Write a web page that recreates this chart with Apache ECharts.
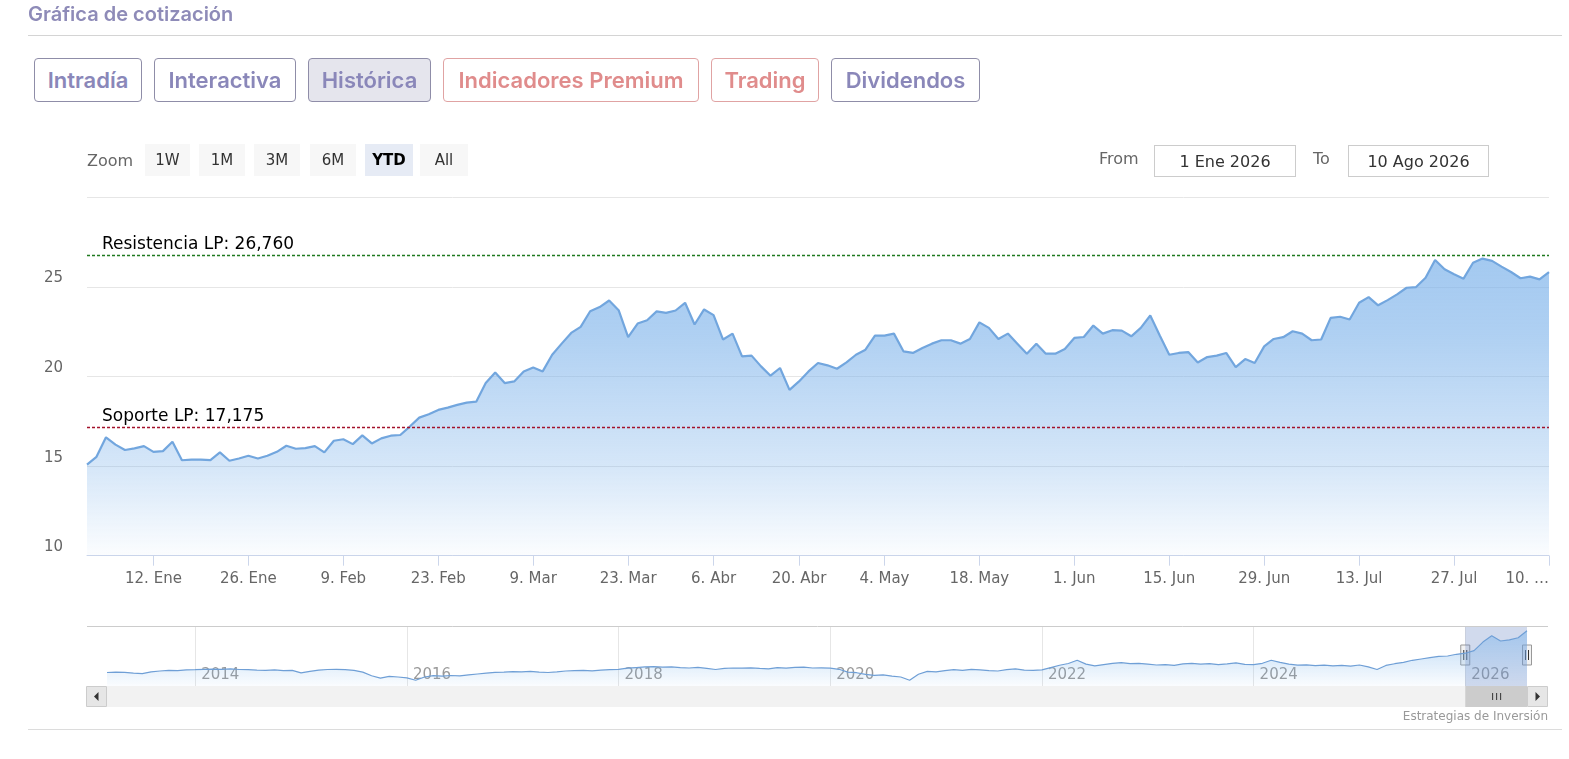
<!DOCTYPE html>
<html><head><meta charset="utf-8">
<script src="https://cdn.jsdelivr.net/npm/echarts@6/dist/echarts.min.js"></script>
<style>
html,body{margin:0;padding:0;background:#fff;width:1569px;height:759px;overflow:hidden;font-family:'DejaVu Sans',sans-serif;}
#chart{position:absolute;left:0;top:0;width:1569px;height:759px;}
.a{position:absolute;white-space:nowrap;}
.c{display:flex;align-items:center;justify-content:center;white-space:nowrap;}
.title{left:28px;top:2px;font:600 20px 'Inter',sans-serif;color:#8e8bb8;}
.hr{position:absolute;height:1px;background:#d4d4d4;}
.tab{position:absolute;top:58px;height:44px;box-sizing:border-box;border:1px solid #8f8da8;border-radius:4px;font:600 22px 'Inter',sans-serif;color:#8a87b9;background:#fff;}
.tab.red{border-color:#e0a3a3;color:#e08c8c;}
.tab.sel{background:#e5e5ed;}
.zlbl{left:87px;top:151px;font:16px 'DejaVu Sans',sans-serif;color:#666;line-height:19px;}
.zb{position:absolute;top:144px;height:32px;background:#f7f7f7;font:15px 'DejaVu Sans',sans-serif;color:#333;}
.zb.on{background:#e6ebf5;font-weight:bold;color:#000;}
.dl{top:149px;font:16px 'DejaVu Sans',sans-serif;color:#666;line-height:19px;}
.box{position:absolute;top:145px;height:32px;box-sizing:border-box;border:1px solid #ccc;font:16px 'DejaVu Sans',sans-serif;color:#333;background:#fff;}
.credit{right:21px;top:709px;font:12px 'DejaVu Sans',sans-serif;color:#999;line-height:15px;}
</style></head>
<body>
<div id="chart"></div>
<div class="a title">Gráfica de cotización</div>
<div class="hr" style="left:28px;top:35px;width:1534px;"></div>
<div class="tab c" style="left:34px;width:108px;">Intradía</div>
<div class="tab c" style="left:154px;width:142px;">Interactiva</div>
<div class="tab c sel" style="left:308px;width:123px;">Histórica</div>
<div class="tab c red" style="left:443px;width:256px;">Indicadores Premium</div>
<div class="tab c red" style="left:711px;width:108px;">Trading</div>
<div class="tab c" style="left:831px;width:149px;">Dividendos</div>
<div class="a zlbl">Zoom</div>
<div class="zb c" style="left:145px;width:45px;">1W</div>
<div class="zb c" style="left:199px;width:46px;">1M</div>
<div class="zb c" style="left:254px;width:46px;">3M</div>
<div class="zb c" style="left:310px;width:46px;">6M</div>
<div class="zb c on" style="left:365px;width:48px;">YTD</div>
<div class="zb c" style="left:420px;width:48px;">All</div>
<div class="a dl" style="left:1099px;">From</div>
<div class="box c" style="left:1154px;width:142px;">1 Ene 2026</div>
<div class="a dl" style="left:1313px;">To</div>
<div class="box c" style="left:1348px;width:141px;">10 Ago 2026</div>
<div class="a credit">Estrategias de Inversión</div>
<div class="hr" style="left:28px;top:729px;width:1534px;background:#dcdcdc;"></div>
<script>
// ---------- data ----------
const RESISTANCE = 26.760;
const SUPPORT = 17.175;
const FIRST_DAY = '2025-12-31';
const LAST_DAY = '2026-08-10';
const HOLIDAYS = ['2026-01-01', '2026-04-03', '2026-04-06', '2026-05-01'];

// daily closes, one per trading day from FIRST_DAY to LAST_DAY
const prices = [
  15.09, 15.52, 16.61, 16.20, 15.90, 15.99, 16.12, 15.80, 15.84, 16.36,
  15.33, 15.36, 15.36, 15.34, 15.77, 15.30, 15.43, 15.58, 15.43, 15.58,
  15.80, 16.14, 15.97, 16.01, 16.12, 15.77, 16.42, 16.50, 16.23, 16.72,
  16.27, 16.55, 16.70, 16.74, 17.21, 17.71, 17.90, 18.14, 18.27, 18.42,
  18.55, 18.60, 19.64, 20.23, 19.64, 19.73, 20.29, 20.51, 20.29, 21.22,
  21.84, 22.44, 22.78, 23.65, 23.88, 24.25, 23.71, 22.21, 22.96, 23.15,
  23.64, 23.56, 23.69, 24.12, 22.91, 23.75, 23.43, 22.07, 22.40, 21.13,
  21.17, 20.57, 20.05, 20.48, 19.26, 19.73, 20.29, 20.76, 20.63, 20.44,
  20.79, 21.22, 21.50, 22.29, 22.29, 22.40, 21.41, 21.32, 21.60, 21.84,
  22.03, 22.03, 21.84, 22.10, 23.03, 22.72, 22.10, 22.40, 21.84, 21.28,
  21.84, 21.28, 21.28, 21.54, 22.16, 22.21, 22.85, 22.40, 22.59, 22.57,
  22.25, 22.72, 23.41, 22.29, 21.22, 21.32, 21.37, 20.79, 21.09, 21.17,
  21.32, 20.53, 20.98, 20.76, 21.69, 22.10, 22.20, 22.53, 22.40, 22.03,
  22.07, 23.28, 23.34, 23.19, 24.12, 24.44, 23.98, 24.27, 24.59, 24.96,
  25.00, 25.52, 26.51, 25.99, 25.71, 25.47, 26.36, 26.59, 26.46, 26.14,
  25.84, 25.49, 25.58, 25.43, 25.84
];

const tickDates  = ['2026-01-12','2026-01-26','2026-02-09','2026-02-23','2026-03-09','2026-03-23','2026-04-06','2026-04-20','2026-05-04','2026-05-18','2026-06-01','2026-06-15','2026-06-29','2026-07-13','2026-07-27','2026-08-10'];
const tickLabels = ['12. Ene','26. Ene','9. Feb','23. Feb','9. Mar','23. Mar','6. Abr','20. Abr','4. May','18. May','1. Jun','15. Jun','29. Jun','13. Jul','27. Jul','10. …'];

// navigator: monthly values from 2013-03 to 2026-08
const NAV_FIRST = '2013-03';
const navValues = [
  6.3, 6.5, 6.4, 6.0, 5.8, 6.6, 7.0, 7.3, 7.2, 7.5,
  7.6, 7.8, 7.9, 7.8, 8.0, 7.7, 7.6, 7.4, 7.3, 7.5, 7.2, 7.3,
  6.1, 6.8, 7.4, 7.7, 7.8, 7.6, 7.3, 6.5, 4.8, 3.7, 4.5, 4.2,
  3.8, 2.7, 4.2, 4.8, 4.6, 4.9, 4.7, 5.2, 5.6, 6.0, 6.4, 6.5,
  6.7, 6.6, 6.8, 6.5, 6.3, 6.6, 7.0, 7.2, 7.3, 7.1, 7.4, 7.6,
  7.8, 8.3, 8.6, 8.9, 9.0, 8.8, 8.9, 8.6, 8.4, 8.7, 8.2, 7.7,
  8.2, 8.4, 8.3, 8.5, 8.2, 8.0, 8.6, 8.3, 8.7, 8.8, 8.4, 8.5,
  8.3, 7.8, 6.5, 6.2, 5.4, 5.0, 5.2, 4.6, 4.2, 2.7, 5.5, 6.8,
  6.6, 7.2, 7.6, 7.3, 7.8, 7.5, 7.2, 7.0, 7.6, 8.0, 7.4, 7.3,
  7.5, 8.6, 9.7, 10.5, 12.0, 10.2, 9.4, 10.0, 10.6, 10.9, 10.4, 10.6,
  10.2, 9.8, 10.0, 9.6, 10.3, 10.6, 10.2, 10.4, 10.0, 10.3, 10.8, 10.1,
  10.0, 10.6, 12.0, 11.0, 10.2, 9.7, 9.9, 9.5, 9.7, 9.4, 9.6, 9.3,
  9.8, 8.9, 7.7, 9.6, 10.4, 11.0, 12.0, 12.6, 13.2, 13.8, 14.0, 14.8,
  15.3, 16.5, 20.5, 23.5, 21.0, 21.5, 22.5, 25.8
];
const NAV_SEL_FROM = '2026-01';
const NAV_SEL_TO = '2026-08';

// ---------- derived categories ----------
function pad(n){return (n<10?'0':'')+n;}
function tradingDays(first, last, holidays){
  const out=[]; const d=new Date(first+'T00:00:00Z'); const end=new Date(last+'T00:00:00Z');
  while(d<=end){
    const s=d.getUTCFullYear()+'-'+pad(d.getUTCMonth()+1)+'-'+pad(d.getUTCDate());
    const wd=d.getUTCDay();
    if(wd!==0 && wd!==6 && holidays.indexOf(s)<0) out.push(s);
    d.setUTCDate(d.getUTCDate()+1);
  }
  return out;
}
const days = tradingDays(FIRST_DAY, LAST_DAY, HOLIDAYS);
const tickMap = new Map();
tickDates.forEach((t,j)=>{ const i=days.findIndex(s=>s>=t); if(i>=0) tickMap.set(i, tickLabels[j]); });

const navMonths = [];
(function(){ let y=+NAV_FIRST.slice(0,4), m=+NAV_FIRST.slice(5,7);
  for(let i=0;i<navValues.length;i++){ navMonths.push(y+'-'+pad(m)); m++; if(m>12){m=1;y++;} } })();
const isEvenYearStart = (i)=>{ const s=navMonths[i]; return s.slice(5)==='01' && (+s.slice(0,4))%2===0; };

function fmtES(v){ return v.toFixed(3).replace('.',','); }

const FONT='DejaVu Sans';
function levelSeries(name, value, color){
  return {type:'line', name:name, xAxisIndex:0, yAxisIndex:0, data:[], z:5,
    markLine:{silent:true, symbol:'none', animation:false,
      lineStyle:{color:color, type:[3,2], width:1.3, opacity:1},
      label:{show:true, position:'insideStartTop', distance:[15,2], color:'#000', fontSize:17, fontFamily:FONT,
             formatter:name+': '+fmtES(value)},
      data:[{yAxis:value}]}};
}
const chart = echarts.init(document.getElementById('chart'), null, {renderer:'canvas'});
const option = {
  animation:false,
  grid:[
    {left:87, right:20, top:197.5, bottom:203.3, containLabel:false},
    {left:107, right:42, top:626, height:60, containLabel:false}
  ],
  xAxis:[
    {type:'category', gridIndex:0, data:days, boundaryGap:false,
     axisLine:{lineStyle:{color:'#ccd6eb'}},
     axisTick:{show:true, interval:(i)=>tickMap.has(i), length:10, lineStyle:{color:'#ccd6eb'}},
     axisLabel:{interval:(i)=>tickMap.has(i), formatter:(v,i)=>tickMap.get(i)||'', color:'#666', fontSize:15, fontFamily:FONT, margin:16, alignMaxLabel:'right'},
     splitLine:{show:false}},
    {type:'category', gridIndex:1, data:navMonths, boundaryGap:false,
     axisLine:{show:false}, axisTick:{show:false},
     axisLabel:{inside:true, interval:(i)=>isEvenYearStart(i), formatter:(v)=>v.slice(0,4), align:'left', padding:[0,0,0,6], margin:3, color:'#999', fontSize:15, fontFamily:FONT},
     splitLine:{show:true, interval:(i)=>isEvenYearStart(i), lineStyle:{color:'#e6e6e6'}}}
  ],
  yAxis:[
    {type:'value', gridIndex:0, min:10, max:30, interval:5,
     axisLine:{show:false}, axisTick:{show:false},
     axisLabel:{color:'#666', fontSize:15, fontFamily:FONT, margin:24, showMaxLabel:false, verticalAlign:'bottom', padding:[0,0,1,0]},
     splitLine:{lineStyle:{color:'#e6e6e6'}}},
    {type:'value', gridIndex:1, min:0, max:28, show:false, splitLine:{show:false}}
  ],
  series:[
    {type:'line', xAxisIndex:0, yAxisIndex:0, data:prices, symbol:'none', z:2,
     lineStyle:{color:'#72a6de', width:2.2},
     areaStyle:{color:new echarts.graphic.LinearGradient(0,0,0,1,[
       {offset:0,color:'rgba(124,178,234,1)'},
       {offset:0.25,color:'rgba(124,178,234,0.88)'},
       {offset:0.7,color:'rgba(124,178,234,0.45)'},
       {offset:1,color:'rgba(124,178,234,0.04)'}])}},
    levelSeries('Resistencia LP', RESISTANCE, '#1f7a1f'),
    levelSeries('Soporte LP', SUPPORT, '#a3122b'),
    {type:'line', xAxisIndex:1, yAxisIndex:1, data:navValues, symbol:'none',
     lineStyle:{color:'#6f9fd6', width:1.2},
     areaStyle:{color:new echarts.graphic.LinearGradient(0,0,0,1,[
       {offset:0,color:'rgba(124,181,236,0.75)'},{offset:1,color:'rgba(124,181,236,0.05)'}])},
     markArea:{silent:true, itemStyle:{color:'rgba(102,133,194,0.3)'},
       data:[[{xAxis:NAV_SEL_FROM},{xAxis:NAV_SEL_TO}]]}}
  ]
};
chart.setOption(option);

// navigator decorations (outline, scrollbar, handles)
const x0 = chart.convertToPixel({xAxisIndex:1}, NAV_SEL_FROM);
const x1 = chart.convertToPixel({xAxisIndex:1}, NAV_SEL_TO);
const navL = 107, navR = 1527, sbTop = 686, sbH = 21, navTop = 626;
function handle(x){
  return {type:'group', children:[
    {type:'rect', shape:{x:x-4.5, y:645, width:9, height:20}, style:{fill:'#f2f2f2', stroke:'#999', lineWidth:1}},
    {type:'line', shape:{x1:x-1.5, y1:650, x2:x-1.5, y2:660}, style:{stroke:'#333', lineWidth:1}},
    {type:'line', shape:{x1:x+1.5, y1:650, x2:x+1.5, y2:660}, style:{stroke:'#333', lineWidth:1}}
  ]};
}
const cx = (x0+x1)/2;
chart.setOption({graphic:[
  {type:'line', shape:{x1:87, y1:navTop+0.5, x2:1548, y2:navTop+0.5}, style:{stroke:'#cccccc', lineWidth:1}, z:10},
  {type:'rect', shape:{x:navL, y:sbTop, width:navR-navL, height:sbH}, style:{fill:'#f2f2f2'}, z:10},
  {type:'rect', shape:{x:x0, y:sbTop, width:x1-x0, height:sbH}, style:{fill:'#cccccc'}, z:11},
  {type:'line', shape:{x1:cx-3.5, y1:sbTop+7, x2:cx-3.5, y2:sbTop+14}, style:{stroke:'#333', lineWidth:1}, z:12},
  {type:'line', shape:{x1:cx+0.5, y1:sbTop+7, x2:cx+0.5, y2:sbTop+14}, style:{stroke:'#333', lineWidth:1}, z:12},
  {type:'line', shape:{x1:cx+4.5, y1:sbTop+7, x2:cx+4.5, y2:sbTop+14}, style:{stroke:'#333', lineWidth:1}, z:12},
  {type:'rect', shape:{x:86.5, y:sbTop+0.5, width:20, height:sbH-1}, style:{fill:'#e6e6e6', stroke:'#cccccc'}, z:11},
  {type:'polygon', shape:{points:[[98.5,sbTop+6],[98.5,sbTop+15],[94,sbTop+10.5]]}, style:{fill:'#333'}, z:12},
  {type:'rect', shape:{x:navR+0.5, y:sbTop+0.5, width:20, height:sbH-1}, style:{fill:'#e6e6e6', stroke:'#cccccc'}, z:11},
  {type:'polygon', shape:{points:[[navR+8.5,sbTop+6],[navR+8.5,sbTop+15],[navR+13,sbTop+10.5]]}, style:{fill:'#333'}, z:12},
  Object.assign(handle(x0), {z:13}),
  Object.assign(handle(x1), {z:13})
]});
</script>
</body></html>
